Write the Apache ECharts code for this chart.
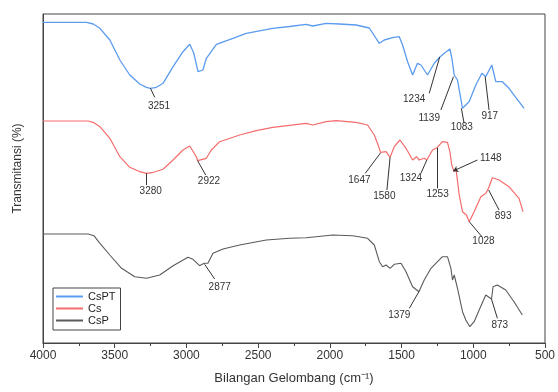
<!DOCTYPE html>
<html><head><meta charset="utf-8">
<script src="https://cdn.jsdelivr.net/npm/echarts@6/dist/echarts.min.js"></script>
<style>html,body{margin:0;padding:0;background:#fff}#c{width:558px;height:392px}</style>
</head><body><div id="c"></div>
<script>
// ---- data ----
const seriesNames = ['CsPT', 'Cs', 'CsP'];
const xTickLabels = ['4000','3500','3000','2500','2000','1500','1000','500'];

// CsPT (top curve)
const csptWn = [4000,3696,3650,3603,3534,3464,3395,3325,3279,3251,3209,3163,3093,3024,2977,2949,2919,2885,2861,2791,2676,2583,2398,2281,2165,2119,2026,1933,1817,1725,1655,1620,1563,1516,1493,1458,1423,1389,1365,1319,1272,1238,1203,1163,1149,1133,1110,1075,1029,982,940,913,871,843,797,751,646];
const csptT  = [320.7,320.7,319,314.7,303,283,268,259,255.7,254.7,255.7,259.7,276.3,291.3,298.7,290,271.3,273,284.7,298.7,304.7,309.7,314.7,316.5,318.7,317,319.7,319,318,315,299.7,303,305.3,306.3,298,281.3,268,279.7,278,268,279.7,285.3,289.7,294,284.7,268,263,234.7,241.3,258,269.7,266.3,278,261.3,261.3,254.7,234.7];

// Cs (middle curve)
const csWn = [4000,3685,3645,3603,3534,3464,3395,3325,3280,3230,3163,3093,3024,2977,2931,2922,2861,2826,2768,2629,2513,2398,2165,2119,2026,1956,1817,1737,1690,1655,1647,1608,1580,1551,1511,1469,1423,1396,1377,1342,1324,1284,1253,1215,1180,1163,1150,1133,1121,1098,1075,1048,1028,994,947,912,893,867,820,751,681,653];
const csT  = [222,222,220.3,216.3,204.7,186.3,175.7,171.3,169.7,170.7,173.7,183,193,197,186.3,182.3,184.7,193,201.3,208,212.3,215.7,219.7,218,221.3,222.3,220.7,218,208,194.7,190.7,191.3,185.7,196.3,203,194.7,183,186.3,183,184.7,183,193,195.3,201.3,200.7,191.3,178,171.3,174.7,148,131.3,128,121.3,131.3,146.3,149.7,155,165.3,163,156.3,144.7,131.3];

// CsP (bottom curve)
const cspWn = [4000,3685,3645,3603,3534,3452,3360,3278,3186,3093,2989,2954,2908,2877,2850,2815,2745,2629,2443,2281,2165,2096,1980,1841,1737,1690,1655,1632,1608,1580,1551,1504,1469,1423,1379,1342,1295,1261,1215,1180,1156,1145,1133,1110,1075,1052,1024,994,959,913,873,862,832,774,716,658];
const cspT  = [109,109,107.3,99.7,88,74.7,66.3,64.7,68,77.3,85.7,83.7,77.3,79.7,79.7,89.7,94,98,103,104.7,105.3,106.3,108,107.3,104.7,98,81.3,76.3,78,74.7,78.7,79.7,71.3,56.3,51.3,63,74.7,79.7,86.3,86.3,74.7,63,68,54.7,31.3,23,16.3,21.3,33,48,44,56.3,58,53,41.3,28];

// Peak annotations: label text, point on curve, leader end, label centre (data coords)
const csptPeaks    = ['3251','1234','1139','1083','917'];
const csptPeakAt   = [[3251,254.7],[1234,286],[1138,266.3],[1083,234.7],[917,266.3]];
const csptLeadEnd  = [[3221,245.7],[1307,249.7],[1226,233],[1064,219.7],[890,233]];
const csptLabelAt  = [[3191,236.3],[1412,244],[1307,224.7],[1080,215.3],[885,227]];

const csPeaks      = ['3280','2922','1647','1580','1324','1253','1148','1028','893'];
const csPeakAt     = [[3280,169.7],[2922,182.3],[1647,190],[1580,185.7],[1324,183],[1253,195.3],[1140,172],[1028,121.3],[893,153]];
const csLeadEnd    = [[3280,158],[2866,168],[1753,169.7],[1602,153],[1365,169.7],[1253,154.7],[971,183],[940,106.3],[820,133]];
const csLabelAt    = [[3249,152],[2843,161.3],[1794,162.3],[1620,146.3],[1435,164.7],[1249,148.7],[878,184.7],[929,101.3],[792,127]];

const cspPeaks     = ['2877','1379','873'];
const cspPeakAt    = [[2873,78.7],[1379,51.3],[873,44]];
const cspLeadEnd   = [[2803,64],[1446,34.7],[832,24.7]];
const cspLabelAt   = [[2768,55.3],[1516,28],[815,18]];

// ---- chart ----
const colors = ['#5b9cf0', '#f46c6c', '#5a5a5a'];
const widths = [1.3, 1.2, 1.1];
const font = 'Liberation Sans, Arial, sans-serif';

function zip(a, b) { return a.map((v, i) => [v, b[i]]); }

function buildSeries(name, wn, t, idx, labels, at, end, labAt) {
  return {
    name: name,
    type: 'line',
    data: zip(wn, t),
    symbol: 'none',
    smooth: false,
    lineStyle: { color: colors[idx], width: widths[idx] },
    itemStyle: { color: colors[idx] },
    z: 3 - idx,
    markLine: {
      silent: true,
      symbol: ['none', 'none'],
      lineStyle: { color: '#333', width: 1, type: 'solid' },
      label: { show: false },
      emphasis: { disabled: true },
      animation: false,
      data: at.map((p, i) => [
        labels[i] === '1148' ? { coord: p, symbol: 'arrow', symbolSize: 5 } : { coord: p },
        { coord: end[i] }
      ])
    },
    markPoint: {
      silent: true,
      symbol: 'circle',
      symbolSize: 0,
      animation: false,
      label: {
        show: true, position: 'inside', color: '#333', fontSize: 10, fontFamily: font,
        formatter: p => p.name
      },
      data: labAt.map((p, i) => ({ name: labels[i], coord: p }))
    }
  };
}

const chart = echarts.init(document.getElementById('c'), null, { renderer: 'canvas' });
chart.setOption({
  animation: false,
  backgroundColor: '#fff',
  grid: { left: 43, right: 12, top: 14, bottom: 49, show: true, borderColor: '#444', borderWidth: 1, backgroundColor: 'transparent' },
  legend: {
    data: seriesNames,
    orient: 'vertical',
    left: 53, top: 288,
    padding: [3, 5, 4, 2],
    itemGap: 1,
    itemWidth: 27, itemHeight: 12,
    itemStyle: { opacity: 0 },
    borderColor: '#444', borderWidth: 1,
    textStyle: { fontSize: 11, color: '#222', fontFamily: font }
  },
  xAxis: {
    type: 'value',
    min: 500, max: 4000, interval: 500,
    inverse: true,
    name: 'Bilangan Gelombang (cm⁻¹)',
    nameLocation: 'middle',
    nameGap: 29,
    nameTextStyle: { fontSize: 13, color: '#333', fontFamily: font },
    axisLine: { show: true, lineStyle: { color: '#444', width: 1 } },
    axisTick: { show: true, length: 5, inside: false, lineStyle: { color: '#444' } },
    minorTick: { show: true, splitNumber: 2, length: 3, lineStyle: { color: '#444' } },
    splitLine: { show: false },
    axisLabel: {
      color: '#333', fontSize: 12, margin: 7, fontFamily: font,
      formatter: v => xTickLabels.includes(String(v)) ? String(v) : ''
    }
  },
  yAxis: {
    type: 'value',
    min: 0, max: 329,
    name: 'Transmitansi (%)',
    nameLocation: 'middle',
    nameRotate: 90,
    nameGap: 19,
    nameTextStyle: { fontSize: 12, color: '#333', fontFamily: font, padding: [0, 0, 0, 20] },
    axisLine: { show: true, lineStyle: { color: '#444', width: 1 } },
    axisTick: { show: false },
    axisLabel: { show: false },
    splitLine: { show: false }
  },
  series: [
    buildSeries('CsPT', csptWn, csptT, 0, csptPeaks, csptPeakAt, csptLeadEnd, csptLabelAt),
    buildSeries('Cs', csWn, csT, 1, csPeaks, csPeakAt, csLeadEnd, csLabelAt),
    buildSeries('CsP', cspWn, cspT, 2, cspPeaks, cspPeakAt, cspLeadEnd, cspLabelAt)
  ]
});
</script>
</body></html>
